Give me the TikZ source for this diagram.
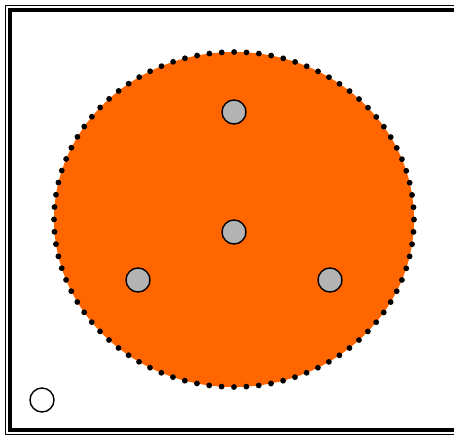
\documentclass[tikz,border=0pt]{standalone}
\usepackage{xcolor}
\usepackage{tikz}
\definecolor{fieldorange}{HTML}{FF6600}
\definecolor{pingray}{HTML}{B3B3B3}

\begin{document}
\begin{tikzpicture}[x=1pt, y=-1pt,
  pin/.style={circle, draw, line width=1.4pt, fill=pingray, minimum size=24pt, inner sep=0pt},
  marker/.style={pin, fill=white},
  rim/.style={line width=5.8pt, line cap=round, dash pattern=on 0pt off 12.413pt}]
\useasboundingbox (0,0) rectangle (454,436);
\clip (0,0) rectangle (454,436);
% double frame
\draw[line width=1pt] (5.5,5.5) rectangle (480,434.3);
\draw[line width=4pt] (10,10) rectangle (475,430);
% field
\fill[fieldorange] (234,219.5) ellipse [x radius=180, y radius=167.5];
\draw[rim] (234,219.5) ellipse [x radius=180, y radius=167.5];
\node[pin] (top) at (234,112) {};
\node[pin] (mid) at (234,232) {};
\node[pin] (left) at (138,280) {};
\node[pin] (right) at (330,280) {};
\node[marker] (ref) at (42,400) {};
\end{tikzpicture}
\end{document}
